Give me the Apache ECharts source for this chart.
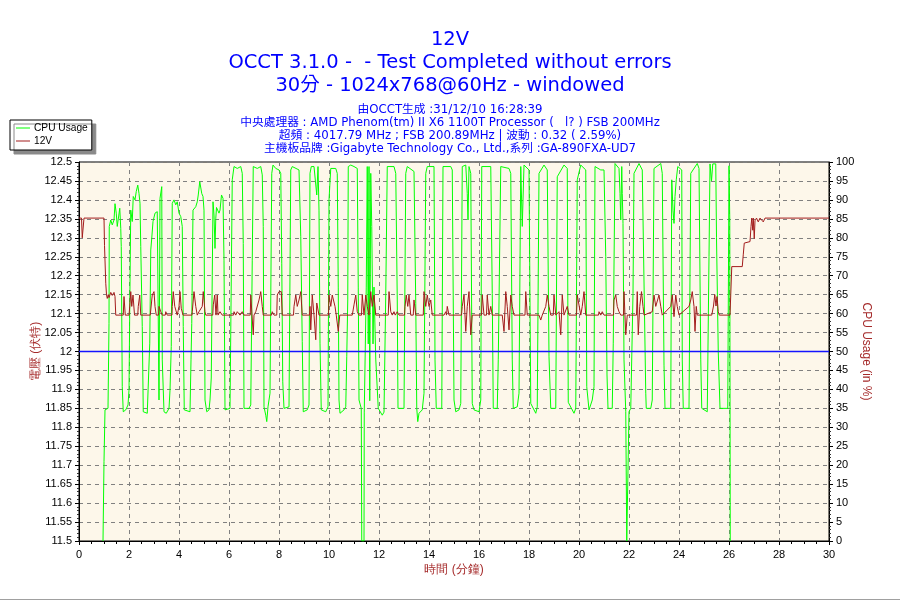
<!DOCTYPE html>
<html>
<head>
<meta charset="utf-8">
<script src="https://cdn.jsdelivr.net/npm/echarts@6/dist/echarts.min.js"></script>
<style>
html,body{margin:0;padding:0;background:#fff;}
#main{width:900px;height:600px;}
</style>
</head>
<body>
<div id="main"></div>
<script>
// ---- Data ----
var titleLines = ['12V', 'OCCT 3.1.0 -  - Test Completed without errors', '30分 - 1024x768@60Hz - windowed'];
var infoLines = [
  '由OCCT生成 :31/12/10 16:28:39',
  '中央處理器 : AMD Phenom(tm) II X6 1100T Processor (   l? ) FSB 200MHz',
  '超頻 : 4017.79 MHz ; FSB 200.89MHz | 波動 : 0.32 ( 2.59%)',
  '主機板品牌 :Gigabyte Technology Co., Ltd.,系列 :GA-890FXA-UD7'
];
var seriesNames = ['CPU Usage', '12V'];
var nominalVoltage = 12;
var timeRange = [0, 30];

// CPU usage (%) : [minute, percent]
var cpuPoints = [
[0.96,0],[1.0,21],[1.04,34.6],[1.16,35],[1.2,57.4],[1.21,83],[1.27,84.7],[1.33,83.4],[1.4,84.7],[1.44,89],[1.49,86.5],[1.53,83],[1.57,83.4],[1.63,87.8],[1.67,82.5],[1.69,77.7],[1.73,40.7],[1.77,34.1],[1.87,34.6],[1.96,35.9],
[2.0,39.8],[2.03,61.8],[2.07,87.3],[2.13,84.3],[2.17,90.9],[2.24,90],[2.29,92.2],[2.35,93.9],[2.4,91.7],[2.44,89.1],[2.47,77.7],[2.53,56.6],[2.57,34.1],[2.73,33.7],[2.8,33.2],[2.83,52.2],[2.87,76.8],[2.91,79.9],[2.96,84.3],
[3.04,86.5],[3.13,86.9],[3.17,86.5],[3.2,37.2],[3.24,90.4],[3.31,93.5],[3.33,47.8],[3.4,34.1],[3.49,33.7],[3.6,35],[3.64,39.8],[3.69,51.3],[3.73,89.1],[3.8,90],[3.87,88.7],[3.93,89.5],
[4.0,86.5],[4.07,85.6],[4.13,83],[4.17,56.6],[4.21,34.6],[4.44,34.1],[4.48,47.8],[4.51,57.4],[4.56,87.3],[4.67,88.2],[4.73,89.5],[4.77,91.3],[4.83,94.8],[4.91,91.7],[4.96,90.9],
[5.0,87.3],[5.04,37.2],[5.11,34.1],[5.2,34.6],[5.24,37.2],[5.29,43],[5.33,70],[5.36,89.5],[5.4,86],[5.44,77.2],[5.47,85],[5.5,88],[5.56,88.2],[5.6,86.5],[5.64,87.3],[5.7,91.3],[5.76,90.4],[5.8,74.1],[5.84,34.6],[5.9,34.1],
[6.04,35],[6.13,95.3],[6.2,98.8],[6.33,98.3],[6.47,98.8],[6.53,97],[6.57,78.5],[6.6,35],[6.67,34.6],[6.8,35],[6.87,35.9],[6.93,74.1],[6.97,98.8],
[7.13,98.3],[7.27,98.8],[7.33,96.6],[7.37,83],[7.4,35.4],[7.47,33.2],[7.51,31.5],[7.56,35.4],[7.64,39],[7.71,97],[7.76,99.2],[7.87,98.3],
[8.0,97.9],[8.07,97],[8.11,73.3],[8.15,42],[8.2,35],[8.4,35.4],[8.47,97.9],[8.53,98.8],[8.8,97.9],[8.87,80.3],[8.93,52.6],[8.97,34.1],
[9.13,34.6],[9.2,35.9],[9.24,97],[9.29,98.8],[9.4,98.8],[9.51,91.3],[9.56,98.8],[9.6,87.3],[9.64,52.2],[9.69,34.6],[9.87,34.1],[9.96,35.4],
[10.0,90],[10.07,98.3],[10.13,98.8],[10.27,98.3],[10.33,97],[10.37,67],[10.4,37.2],[10.44,33.7],[10.6,34.6],[10.67,35.4],[10.71,48.6],[10.75,63.6],[10.77,98.8],[10.87,99.2],
[11.0,98.8],[11.13,98.3],[11.17,67],[11.2,37.2],[11.29,35],[11.31,0],[11.4,0],[11.41,34],[11.49,67],[11.53,98.8],[11.57,52],[11.6,98.8],[11.63,37],[11.67,97],[11.71,83],[11.76,52],[11.8,67],[11.87,48],[11.97,35],
[12.13,33.2],[12.2,34],[12.27,65],[12.33,98.8],[12.6,98.8],[12.67,97],[12.73,63.6],[12.76,35],
[13.0,35],[13.07,97],[13.13,98.8],[13.4,97.5],[13.47,62.7],[13.51,35],[13.55,31.5],[13.6,33.7],[13.73,34.6],[13.8,39],[13.87,97],[13.93,98.8],
[14.2,98.8],[14.24,47.8],[14.29,35],[14.51,35],[14.56,98.8],[14.87,98.8],[14.93,97.9],
[15.0,37.2],[15.07,34.1],[15.2,34.6],[15.27,36.3],[15.33,98.8],[15.47,99.2],[15.53,91.7],[15.56,84.7],[15.6,98.8],[15.67,97],[15.73,36.3],[15.8,34.6],
[16.0,34.1],[16.07,37.2],[16.11,98.8],[16.47,98.8],[16.53,65.3],[16.57,35],[16.73,35],[16.77,47.8],[16.87,98.8],
[17.2,98.3],[17.27,97],[17.33,47.8],[17.37,35],[17.53,35.4],[17.6,39],[17.67,98.8],[17.73,83],[17.8,99.2],
[18.0,97.9],[18.07,36.3],[18.27,33.7],[18.33,35.4],[18.4,97],[18.6,99.2],[18.73,97.9],[18.8,48.6],[18.87,35],
[19.07,35],[19.13,96.1],[19.4,99.2],[19.53,98.3],[19.57,36.6],[19.8,33.7],[19.87,35],[19.93,95.3],
[20.07,99.2],[20.27,97.9],[20.31,40.7],[20.4,34.6],[20.53,37.2],[20.6,40.7],[20.64,98.8],[20.87,97.9],
[21.0,97.9],[21.07,75],[21.12,43.8],[21.16,35],[21.33,35],[21.37,52.2],[21.44,99.6],[21.6,98.3],[21.64,91.7],[21.67,84.7],[21.71,98.8],[21.73,91.7],[21.76,83.8],[21.8,47.8],[21.87,34.1],[21.91,0],[21.97,0],
[22.0,34.1],[22.07,35],[22.16,65.3],[22.2,97],[22.4,99.6],[22.53,97.9],[22.67,39],[22.69,35],[22.87,35],[22.93,37.2],
[23.0,98.3],[23.27,99.6],[23.33,97],[23.4,46.4],[23.44,35],[23.67,35],[23.71,95.3],[23.76,87.3],[23.8,83.8],[23.84,90.9],[23.89,95.3],[23.95,98.8],
[24.11,97.9],[24.13,47.8],[24.17,35],[24.4,35],[24.47,97],[24.73,99.6],[24.8,98.3],[24.87,47.8],[24.91,35],
[25.13,34.1],[25.2,75],[25.24,99.5],[25.3,95],[25.35,99.5],[25.47,99.5],[25.5,80],[25.57,50],[25.64,35],[25.95,35],
[26.0,99],[26.03,85],[26.05,0]
];

// 12V rail (volts) : [minute, volts]
var voltPoints = [
[0,12.352],[0.1,12.352],[0.13,12.3],[0.17,12.3],[0.2,12.352],[1.0,12.352],[1.02,12.28],[1.07,12.18],[1.1,12.15],[1.13,12.14],[1.17,12.15],[1.2,12.142],[1.27,12.156],[1.33,12.148],[1.4,12.156],[1.44,12.145],[1.47,12.096],
[1.77,12.096],[1.8,12.145],[1.85,12.096],
[2.0,12.096],[2.03,12.119],[2.07,12.158],[2.11,12.119],[2.16,12.149],[2.22,12.096],
[2.35,12.096],[2.37,12.119],[2.43,12.149],[2.47,12.096],
[2.85,12.096],[2.93,12.149],[3.0,12.158],[3.04,12.119],[3.09,12.096],
[3.18,12.096],[3.2,12.119],[3.27,12.105],[3.33,12.096],[3.45,12.096],[3.47,12.105],[3.53,12.096],
[3.72,12.096],[3.73,12.119],[3.77,12.158],[3.83,12.119],[3.93,12.096],
[3.98,12.096],[4.0,12.119],[4.04,12.158],[4.09,12.114],[4.16,12.096],
[4.52,12.096],[4.53,12.105],[4.6,12.158],[4.67,12.119],[4.73,12.096],[4.8,12.105],
[4.93,12.119],[4.97,12.158],[5.04,12.105],[5.07,12.096],
[5.35,12.096],[5.37,12.123],[5.43,12.149],[5.48,12.096],[5.53,12.149],[5.56,12.096],[5.64,12.105],[5.73,12.096],
[6.18,12.096],[6.2,12.105],[6.27,12.096],[6.33,12.105],[6.44,12.096],[6.53,12.105],[6.6,12.096],
[6.85,12.096],[6.87,12.149],[6.93,12.149],[6.97,12.044],[7.0,12.096],[7.07,12.105],[7.2,12.136],[7.27,12.158],[7.33,12.119],[7.37,12.096],
[7.7,12.096],[7.73,12.105],[7.8,12.096],[7.91,12.096],[7.93,12.149],[8.0,12.158],[8.09,12.158],[8.13,12.096],
[8.58,12.096],[8.6,12.119],[8.67,12.149],[8.73,12.119],[8.8,12.136],[8.87,12.158],[8.93,12.096],
[9.22,12.096],[9.24,12.119],[9.27,12.057],[9.33,12.149],[9.4,12.096],[9.47,12.031],[9.51,12.128],[9.6,12.096],
[9.98,12.096],[10.0,12.149],[10.07,12.119],[10.13,12.149],[10.24,12.119],[10.29,12.096],[10.33,12.096],[10.37,12.053],[10.43,12.096],
[10.93,12.096],[11.0,12.123],[11.07,12.149],[11.13,12.105],[11.2,12.096],[11.3,12.096],[11.33,12.149],[11.4,12.096],[11.47,12.149],[11.53,12.119],[11.6,12.096],[11.67,12.158],[11.73,12.119],[11.8,12.149],[11.87,12.096],
[12.37,12.096],[12.4,12.158],[12.47,12.105],[12.53,12.096],[12.6,12.105],[12.65,12.096],[12.73,12.105],[12.8,12.096],
[13.02,12.096],[13.04,12.119],[13.09,12.149],[13.15,12.119],[13.2,12.149],[13.27,12.096],[13.37,12.096],[13.4,12.136],[13.47,12.096],
[13.77,12.096],[13.8,12.158],[13.87,12.119],[13.93,12.149],[14.0,12.119],[14.07,12.136],[14.13,12.096],
[14.6,12.096],[14.67,12.105],[14.7,12.096],[14.73,12.119],[14.8,12.096],
[15.3,12.096],[15.33,12.119],[15.4,12.149],[15.47,12.053],[15.53,12.119],[15.6,12.158],[15.67,12.044],[15.73,12.096],
[16.1,12.096],[16.13,12.149],[16.2,12.096],[16.3,12.096],[16.33,12.149],[16.4,12.096],[16.47,12.119],[16.53,12.096],
[16.93,12.096],[17.0,12.053],[17.07,12.158],[17.13,12.119],[17.2,12.057],[17.27,12.149],[17.33,12.119],[17.4,12.096],
[17.84,12.096],[17.87,12.158],[17.93,12.096],[18.4,12.096],[18.47,12.083],[18.53,12.096],[18.67,12.119],[18.73,12.149],[18.8,12.119],[18.87,12.096],
[18.97,12.096],[19.0,12.149],[19.07,12.096],[19.2,12.105],[19.27,12.044],[19.33,12.149],[19.4,12.096],[19.53,12.119],[19.6,12.096],
[19.9,12.096],[19.93,12.149],[20.0,12.149],[20.07,12.096],[20.13,12.119],[20.2,12.158],[20.27,12.096],
[20.78,12.096],[20.8,12.105],[20.87,12.096],[20.93,12.105],[21.0,12.096],
[21.38,12.096],[21.4,12.136],[21.47,12.149],[21.53,12.119],[21.6,12.105],[21.67,12.096],[21.78,12.096],[21.8,12.158],[21.87,12.044],[21.93,12.096],
[22.3,12.096],[22.33,12.158],[22.37,12.044],[22.43,12.119],[22.5,12.158],[22.56,12.119],[22.6,12.096],
[22.93,12.105],[23.0,12.149],[23.07,12.119],[23.2,12.149],[23.27,12.119],[23.33,12.096],
[23.67,12.119],[23.73,12.149],[23.8,12.092],[23.87,12.149],[23.93,12.119],[24.0,12.096],
[24.4,12.119],[24.47,12.136],[24.53,12.158],[24.6,12.119],[24.64,12.053],[24.69,12.119],[24.73,12.096],
[25.31,12.096],[25.38,12.12],[25.43,12.15],[25.48,12.12],[25.52,12.145],[25.57,12.105],[25.61,12.096],[26.04,12.096],
[26.07,12.15],[26.11,12.224],[26.53,12.224],[26.57,12.255],[26.61,12.286],[26.84,12.29],[26.88,12.33],[26.91,12.352],[26.95,12.32],[26.97,12.352],[27.01,12.298],[27.04,12.345],[27.1,12.352],[27.17,12.342],[27.24,12.352],[27.37,12.342],[27.44,12.352],[30,12.352]
];

// ---- Chart ----
var chart = echarts.init(document.getElementById('main'), null, {renderer: 'canvas'});
var blue = '#1414ff';
var red = '#a31c1c';
var axisNameColor = '#a52a2a';
var tickFont = 'Liberation Sans, Arial, sans-serif';
var titleFont = 'DejaVu Sans, Noto Sans CJK TC, sans-serif';

var titles = [];
var bigTops = [30, 53, 76];
titleLines.forEach(function (t, i) {
  titles.push({text: t, left: 'center', top: bigTops[i], padding: 0,
    textStyle: {fontSize: 19.5, fontWeight: 'normal', color: '#0000ff', fontFamily: titleFont}});
});
infoLines.forEach(function (t, i) {
  titles.push({text: t, left: 'center', top: 104 + i * 13, padding: 0,
    textStyle: {fontSize: 11.75, fontWeight: 'normal', color: '#0000ff', fontFamily: titleFont}});
});

function fmt(v) { return String(Number(v.toFixed(2))); }

var option = {
  animation: false,
  backgroundColor: '#ffffff',
  title: titles,
  legend: {
    data: seriesNames,
    orient: 'vertical',
    left: 10, top: 120,
    padding: [3, 4, 4, 6],
    itemGap: 3,
    itemWidth: 14, itemHeight: 1,
    icon: 'rect',
    backgroundColor: '#ffffff',
    borderColor: '#000000', borderWidth: 1,
    shadowColor: '#8a8a8a', shadowOffsetX: 4, shadowOffsetY: 4, shadowBlur: 0,
    textStyle: {fontSize: 10.2, color: '#000', fontFamily: tickFont, padding: [0, 0, 0, -1]},
    selectedMode: false
  },
  grid: {
    left: 79, right: 71, top: 162, bottom: 59,
    show: true, backgroundColor: '#fdf7ea', borderColor: '#000', borderWidth: 1
  },
  xAxis: {
    type: 'value', min: timeRange[0], max: timeRange[1], interval: 2,
    name: '時間 (分鐘)', nameLocation: 'middle', nameGap: 23, nameMoveOverlap: false,
    nameTextStyle: {color: axisNameColor, fontSize: 12, fontFamily: tickFont},
    axisLine: {onZero: false, lineStyle: {color: '#000', width: 1}},
    axisTick: {show: true, length: 4, lineStyle: {color: '#000'}},
    minorTick: {show: true, splitNumber: 4, length: 3, lineStyle: {color: '#000'}},
    axisLabel: {fontSize: 11, color: '#000', margin: 8, fontFamily: tickFont},
    splitLine: {show: true, lineStyle: {color: '#808080', type: [4, 4], width: 1}}
  },
  yAxis: [{
    type: 'value', min: 11.5, max: 12.5, interval: 0.05, position: 'left',
    name: '電壓 (伏特)', nameLocation: 'middle', nameRotate: 90, nameGap: 37, nameMoveOverlap: false,
    nameTextStyle: {color: axisNameColor, fontSize: 12, fontFamily: tickFont},
    axisLine: {show: true, onZero: false, lineStyle: {color: '#000'}},
    axisTick: {show: true, length: 4, lineStyle: {color: '#000'}},
    minorTick: {show: true, splitNumber: 5, length: 2, lineStyle: {color: '#333'}},
    axisLabel: {fontSize: 11, color: '#000', margin: 7, fontFamily: tickFont, formatter: fmt},
    splitLine: {show: true, lineStyle: {color: '#808080', type: [4, 4], width: 1}}
  }, {
    type: 'value', min: 0, max: 100, interval: 5, position: 'right',
    name: 'CPU Usage (in %)', nameLocation: 'middle', nameRotate: -90, nameGap: 31, nameMoveOverlap: false,
    nameTextStyle: {color: axisNameColor, fontSize: 12, fontFamily: tickFont},
    axisLine: {show: true, onZero: false, lineStyle: {color: '#000'}},
    axisTick: {show: true, length: 4, lineStyle: {color: '#000'}},
    minorTick: {show: true, splitNumber: 5, length: 2, lineStyle: {color: '#333'}},
    axisLabel: {fontSize: 11, color: '#000', margin: 7, fontFamily: tickFont},
    splitLine: {show: false}
  }],
  series: [{
    name: seriesNames[0], type: 'line', yAxisIndex: 1, data: cpuPoints,
    showSymbol: false, symbol: 'none',
    lineStyle: {color: '#00ff00', width: 1}, itemStyle: {color: '#00ff00'},
    z: 2
  }, {
    name: 'nominal', type: 'line', yAxisIndex: 0,
    data: [[timeRange[0], nominalVoltage], [timeRange[1], nominalVoltage]],
    showSymbol: false, symbol: 'none', silent: true,
    lineStyle: {color: blue, width: 1.4, opacity: 1}, itemStyle: {color: blue},
    z: 4
  }, {
    name: seriesNames[1], type: 'line', yAxisIndex: 0, data: voltPoints,
    showSymbol: false, symbol: 'none',
    lineStyle: {color: red, width: 1}, itemStyle: {color: red},
    z: 3
  }],
  graphic: [{
    type: 'line', shape: {x1: 0, y1: 599.5, x2: 900, y2: 599.5},
    style: {stroke: '#a0a0a0', lineWidth: 1}, silent: true
  }]
};
chart.setOption(option);
</script>
</body>
</html>
